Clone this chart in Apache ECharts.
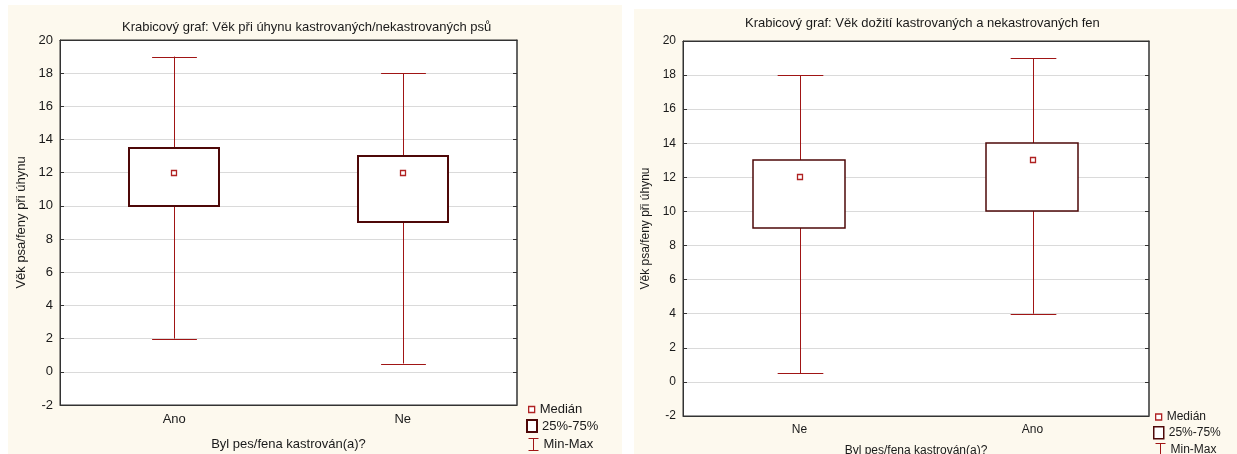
<!DOCTYPE html>
<html>
<head>
<meta charset="utf-8">
<script src="https://cdn.jsdelivr.net/npm/echarts@6/dist/echarts.min.js"></script>
<style>
html, body { margin: 0; padding: 0; background: #fff; }
#left { position: absolute; left: 8px; top: 5px; width: 614px; height: 449px; background: #fdf9ee; }
#right { position: absolute; left: 634px; top: 9px; width: 603px; height: 445px; background: #fdf9ee; }
</style>
</head>
<body>
<div id="left"></div>
<div id="right"></div>
<script>
// left: psi (dogs)
const leftCategories = ['Ano', 'Ne'];
const leftMin = [2, 0.5];
const leftQ1 = [10, 9];
const leftMedian = [12, 12];
const leftQ3 = [13.5, 13];
const leftMax = [19, 18];

// right: feny (bitches)
const rightCategories = ['Ne', 'Ano'];
const rightMin = [0.5, 4];
const rightQ1 = [9, 10];
const rightMedian = [12, 13];
const rightQ3 = [13, 14];
const rightMax = [18, 19];

const yMin = -2, yMax = 20, yStep = 2;

const WHISKER = '#a01515';
const BOX = '#4e0808';
const MEDIAN = '#b02222';
const FONT = "'Liberation Sans', Arial, sans-serif";
const TEXT = '#1a1a1a';

function crisp(v) { return Math.round(v) + 0.5; }

function renderWhisker(params, api) {
    let i = api.value(0);
    let top = api.coord([i, api.value(5)]);
    let bot = api.coord([i, api.value(1)]);
    let half = api.size([1, 0])[0] * 0.098;
    let x = crisp(top[0]);
    let st = { stroke: WHISKER, lineWidth: 1 };
    return {
        type: 'group',
        children: [
            { type: 'line', shape: { x1: x, y1: top[1], x2: x, y2: bot[1] }, style: st },
            { type: 'line', shape: { x1: x - half, y1: crisp(top[1]), x2: x + half, y2: crisp(top[1]) }, style: st },
            { type: 'line', shape: { x1: x - half, y1: crisp(bot[1]), x2: x + half, y2: crisp(bot[1]) }, style: st }
        ]
    };
}

function makeRenderBox(lw) {
    return function (params, api) {
        let i = api.value(0);
        let q3 = api.coord([i, api.value(4)]);
        let q1 = api.coord([i, api.value(2)]);
        let half = api.size([1, 0])[0] * 0.198;
        return {
            type: 'rect',
            shape: { x: Math.round(q3[0] - half), y: Math.round(q3[1]), width: Math.round(half * 2), height: Math.round(q1[1] - q3[1]) },
            style: { fill: '#fff', stroke: BOX, lineWidth: lw }
        };
    };
}

function renderMedian(params, api) {
    let i = api.value(0);
    let p = api.coord([i, api.value(3)]);
    return {
        type: 'rect',
        shape: { x: Math.round(p[0]) - 2.5, y: Math.round(p[1]) - 2.5, width: 5, height: 5 },
        style: { fill: '#fff', stroke: MEDIAN, lineWidth: 1.3 }
    };
}

function buildData(mins, q1s, meds, q3s, maxs) {
    return mins.map((m, i) => [i, m, q1s[i], meds[i], q3s[i], maxs[i]]);
}

function makeOption(cfg) {
    let data = buildData(cfg.min, cfg.q1, cfg.med, cfg.q3, cfg.max);
    let labelStyle = { color: TEXT, fontSize: cfg.fontSize, fontFamily: FONT };
    let lg = cfg.legend;
    return {
        animation: false,
        textStyle: { fontFamily: FONT },
        title: {
            text: cfg.title,
            left: cfg.titleLeft,
            top: cfg.titleTop,
            textStyle: { fontSize: 13, fontWeight: 'normal', color: TEXT, fontFamily: FONT }
        },
        grid: {
            left: cfg.grid[0], top: cfg.grid[1], right: cfg.grid[2], bottom: cfg.grid[3],
            outerBoundsMode: 'none',
            containLabel: false,
            show: true, backgroundColor: '#fff', borderColor: '#333', borderWidth: 1
        },
        xAxis: [{
            type: 'category',
            data: cfg.categories,
            boundaryGap: true,
            name: 'Byl pes/fena kastrován(a)?',
            nameLocation: 'middle',
            nameGap: cfg.xNameGap,
            nameTextStyle: labelStyle,
            axisLine: { onZero: false, lineStyle: { color: '#333' } },
            axisTick: { alignWithLabel: true, length: 4, lineStyle: { color: '#333' } },
            axisLabel: Object.assign({ margin: 8 }, labelStyle),
            splitLine: { show: false }
        }, {
            type: 'category',
            data: cfg.categories,
            position: 'top',
            axisLine: { onZero: false, lineStyle: { color: '#333' } },
            axisTick: { alignWithLabel: true, inside: true, length: 4, lineStyle: { color: '#333' } },
            axisLabel: { show: false }
        }],
        yAxis: [{
            type: 'value',
            min: yMin, max: yMax, interval: yStep,
            name: 'Věk psa/feny při úhynu',
            nameLocation: 'middle',
            nameGap: cfg.yNameGap,
            nameTextStyle: labelStyle,
            axisLine: { show: true, onZero: false, lineStyle: { color: '#333' } },
            axisTick: { show: true, inside: true, length: 4, lineStyle: { color: '#333' } },
            axisLabel: Object.assign({ margin: 7 }, labelStyle),
            splitLine: { lineStyle: { color: '#dadada' } }
        }, {
            type: 'value',
            min: yMin, max: yMax, interval: yStep,
            position: 'right',
            axisLine: { show: true, onZero: false, lineStyle: { color: '#555', width: 1.5 } },
            axisTick: { show: true, inside: true, length: 4, lineStyle: { color: '#333' } },
            axisLabel: { show: false },
            splitLine: { show: false }
        }],
        legend: [{
            data: [{ name: 'Medián', icon: 'rect' }],
            left: lg.x + 2, top: lg.y[0], padding: 0, selectedMode: false,
            itemWidth: 6, itemHeight: 6,
            itemStyle: { color: '#fff', borderColor: MEDIAN, borderWidth: 1.3 },
            textStyle: labelStyle
        }, {
            data: [{ name: '25%-75%', icon: 'rect' }],
            left: lg.x, top: lg.y[1], padding: 0, selectedMode: false,
            itemWidth: 10, itemHeight: 12,
            itemStyle: { color: '#fff', borderColor: BOX, borderWidth: cfg.boxLine },
            textStyle: labelStyle
        }, {
            data: [{ name: 'Min-Max', icon: 'path://M0,0H10M5,0V12M0,12H10' }],
            left: lg.x, top: lg.y[2], padding: 0, selectedMode: false,
            itemWidth: 10, itemHeight: 12,
            itemStyle: { color: 'none', borderColor: WHISKER, borderWidth: 1 },
            textStyle: labelStyle
        }],
        series: [{
            name: 'Min-Max',
            type: 'custom',
            renderItem: renderWhisker,
            encode: { x: 0, y: [1, 2, 3, 4, 5] },
            itemStyle: { color: WHISKER },
            data: data,
            z: 2
        }, {
            name: '25%-75%',
            type: 'custom',
            renderItem: makeRenderBox(cfg.boxLine),
            encode: { x: 0, y: [1, 2, 3, 4, 5] },
            itemStyle: { color: BOX },
            data: data,
            z: 3
        }, {
            name: 'Medián',
            type: 'custom',
            renderItem: renderMedian,
            encode: { x: 0, y: [1, 2, 3, 4, 5] },
            itemStyle: { color: MEDIAN },
            data: data,
            z: 4
        }]
    };
}

let leftChart = echarts.init(document.getElementById('left'));
leftChart.setOption(makeOption({
    title: 'Krabicový graf: Věk při úhynu kastrovaných/nekastrovaných psů',
    titleLeft: 109, titleTop: 11,
    categories: leftCategories,
    min: leftMin, q1: leftQ1, med: leftMedian, q3: leftQ3, max: leftMax,
    grid: [52, 35, 105, 49],
    fontSize: 13,
    xNameGap: 33,
    yNameGap: 30,
    boxLine: 2,
    legend: { x: 518, y: [398, 414, 431] }
}));

let rightChart = echarts.init(document.getElementById('right'));
rightChart.setOption(makeOption({
    title: 'Krabicový graf: Věk dožití kastrovaných a nekastrovaných fen',
    titleLeft: 106, titleTop: 3,
    categories: rightCategories,
    min: rightMin, q1: rightQ1, med: rightMedian, q3: rightQ3, max: rightMax,
    grid: [49, 32, 88, 38],
    fontSize: 12,
    xNameGap: 29,
    yNameGap: 29,
    boxLine: 1.5,
    legend: { x: 519, y: [402, 417, 432] }
}));
</script>
</body>
</html>
